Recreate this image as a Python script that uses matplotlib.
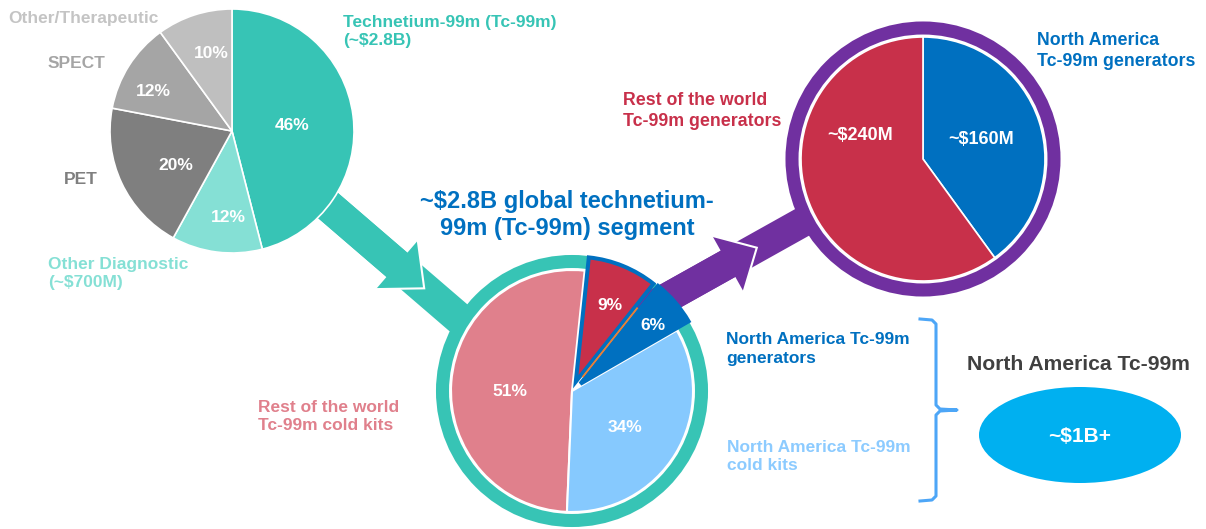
import matplotlib
matplotlib.use('Agg')
import matplotlib.pyplot as plt
from matplotlib.patches import Polygon, Circle, Ellipse
import numpy as np

# market split (top left pie)
pie1_labels = ['Technetium-99m (Tc-99m)\n(~$2.8B)', 'Other Diagnostic\n(~$700M)', 'PET', 'SPECT',
               'Other/Therapeutic']
pie1_values = [46, 12, 20, 12, 10]
pie1_colors = ['#37C4B5', '#85E0D5', '#7F7F7F', '#A5A5A5', '#BFBFBF']
pie1_text_colors = ['#37C4B5', '#85E0D5', '#7F7F7F', '#A5A5A5', '#C4C4C4']

# Tc-99m segment (middle pie)
pie2_labels = ['Rest of the world\nTc-99m cold kits', 'North America Tc-99m\ncold kits',
               'North America Tc-99m\ngenerators', 'Rest of the world\nTc-99m generators']
pie2_values = [51, 34, 6, 9]
pie2_colors = ['#E0808C', '#86C9FE', '#0070C0', '#C8304A']

# generators (top right pie)
pie3_labels = ['North America\nTc-99m generators', 'Rest of the world\nTc-99m generators']
pie3_amounts = ['~$160M', '~$240M']
pie3_values = [160, 240]
pie3_colors = ['#0070C0', '#C8304A']

total_label = 'North America Tc-99m'
total_amount = '~$1B+'

W, H = 1206, 529
plt.rcParams['font.family'] = ['Liberation Sans', 'DejaVu Sans']

fig = plt.figure(figsize=(W / 100, H / 100), dpi=100)
ax = fig.add_axes([0, 0, 1, 1])


def txt(x, y, s, color, size=12.5, ha='left', weight='bold', z=6, **kw):
    ax.text(x, H - y, s, color=color, fontsize=size, ha=ha, va='center', fontweight=weight,
            linespacing=1.25, zorder=z, **kw)


def arrow_band(p0, p1, t_head, w, hw, hl, color, z):
    p0 = np.array([p0[0], H - p0[1]], float)
    p1 = np.array([p1[0], H - p1[1]], float)
    u = (p1 - p0) / np.linalg.norm(p1 - p0)
    n = np.array([-u[1], u[0]])
    base = p0 + (p1 - p0) * t_head
    rect = lambda a, b: [a + n * w / 2, b + n * w / 2, b - n * w / 2, a - n * w / 2]
    ax.add_patch(Polygon(rect(p0, p1), closed=True, fc=color, ec='none', zorder=z))
    tip = base + u * hl
    head = [base + n * hw, tip, base - n * hw]
    ax.add_patch(Polygon(head, closed=True, fc=color, ec='none', zorder=z + 0.1))
    hx, hy = zip(*head)
    ax.plot(hx, hy, color='white', lw=1.5, zorder=z + 0.2, solid_joinstyle='miter')
    ax.add_patch(Polygon(rect(p0, base + u * 1.5), closed=True, fc=color, ec='none', zorder=z + 0.3))


# arrows
arrow_band((260, 147), (540, 388), 0.489, 32, 32, 36, '#37C4B5', 1)
arrow_band((640, 313), (860, 190), 0.40, 30, 32, 33, '#7030A0', 3.5)

# pie 1
w1, _ = ax.pie(pie1_values, colors=pie1_colors, startangle=90, counterclock=False, radius=122,
               center=(232, H - 131), wedgeprops=dict(edgecolor='white', linewidth=1.2))
for w in w1:
    w.set_zorder(2)
pct1_pos = [(292, 125), (228, 218), (176, 166), (153, 91), (211, 53)]
for v, (x, y) in zip(pie1_values, pct1_pos):
    txt(x, y, f'{v}%', 'white', ha='center')
txt(343, 32, pie1_labels[0], pie1_text_colors[0])
txt(48, 273, pie1_labels[1], pie1_text_colors[1])
txt(64, 179, pie1_labels[2], pie1_text_colors[2])
txt(48, 64, pie1_labels[3], pie1_text_colors[3])
txt(8, 18, pie1_labels[4], pie1_text_colors[4])

# pie 2
c2 = (572, H - 391)
ax.add_patch(Circle(c2, 129.5, fc='white', ec='#37C4B5', lw=9.4, zorder=2))
w2, _ = ax.pie(pie2_values, colors=pie2_colors, startangle=84, counterclock=True, radius=121,
               center=c2, explode=[0, 0, 11, 10],
               wedgeprops=dict(edgecolor='white', linewidth=1.5))
for w in w2[:2]:
    w.set_zorder(3)
for w in w2[2:]:
    w.set_radius(125)
    w.set_edgecolor('#0070C0')
    w.set_linewidth(2.9)
    w.set_zorder(4)
# thin orange line in the gap between the two generator slices
a_gap = np.deg2rad(84 + 3.6 * sum(pie2_values[:3]))
off = (np.array(w2[2].center) + np.array(w2[3].center)) / 2
r = np.array([8, 95])
ax.plot(off[0] + r * np.cos(a_gap), off[1] + r * np.sin(a_gap), color='#ED7D31', lw=1.3, zorder=4.5)

pct2_pos = [(510, 392), (625, 428), (653, 325), (610, 305)]
for v, (x, y) in zip(pie2_values, pct2_pos):
    txt(x, y, f'{v}%', 'white', ha='center')
txt(258, 417, pie2_labels[0], '#E0808C')
txt(727, 457, pie2_labels[1], '#8CCBFF')
txt(726, 349, pie2_labels[2], '#0070C0')
txt(567, 215, '~$2.8B global technetium-\n99m (Tc-99m) segment', '#0070C0', size=17, ha='center')

# bracket
bx = [920, 932, 936, 936, 940, 957, 940, 936, 936, 932, 920]
by = [319, 320, 324, 405, 409, 410, 411, 415, 496, 500, 501]
ax.plot(bx, [H - v for v in by], color='#4DA6F7', lw=2.2, zorder=5, solid_joinstyle='round')

# total
txt(967, 365, total_label, '#404040', size=15.2)
ax.add_patch(Ellipse((1080, H - 435), 202, 96, fc='#00B0F0', ec='none', zorder=5))
txt(1080, 437, total_amount, 'white', size=15, ha='center')

# pie 3
c3 = (923, H - 159)
ax.add_patch(Circle(c3, 131, fc='white', ec='#7030A0', lw=9.4, zorder=5))
w3, _ = ax.pie(pie3_values, colors=pie3_colors, startangle=90, counterclock=False, radius=122,
               center=c3, wedgeprops=dict(edgecolor='white', linewidth=1.2))
for w in w3:
    w.set_zorder(5.5)
for s, (x, y) in zip(pie3_amounts, [(981, 140), (860, 135)]):
    txt(x, y, s, 'white', size=13, ha='center')
txt(1037, 51, pie3_labels[0], '#0070C0', size=12.8)
txt(623, 111, pie3_labels[1], '#C8304A', size=12.8)

ax.set_xlim(0, W)
ax.set_ylim(0, H)
ax.set_aspect('auto')
ax.axis('off')

plt.savefig('out.png', dpi=100)
